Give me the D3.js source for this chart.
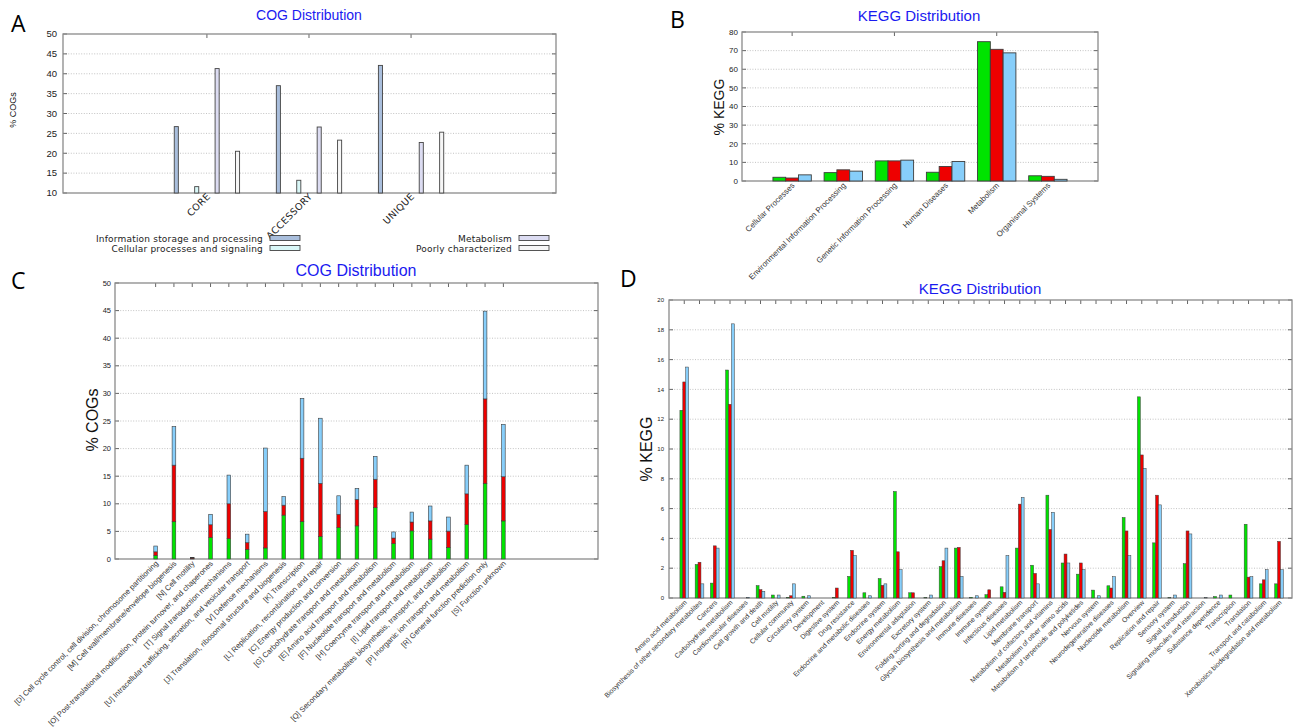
<!DOCTYPE html>
<html>
<head>
<meta charset="utf-8">
<script src="https://cdn.jsdelivr.net/npm/d3@7/dist/d3.min.js"></script>
<style>
body { margin: 0; background: #fff; }
svg { display: block; font-family: "Liberation Sans", Arial, sans-serif; }
</style>
</head>
<body>
<svg id="fig" width="1293" height="728"></svg>
<script>
// ---- panel A : COG classes per pan-genome part ----
const cogParts = ["CORE", "ACCESSORY", "UNIQUE"];
const cogClasses = ["Information storage and processing", "Cellular processes and signaling", "Metabolism", "Poorly characterized"];
const infoStorage = [26.7, 37.0, 42.1];
const cellSignal = [11.6, 13.2, 0];
const metabolismCog = [41.3, 26.6, 22.7];
const poorlyChar = [20.5, 23.3, 25.3];
const cogClassColors = ["#a9bedc", "#d9f7f7", "#dcdcf2", "#f6f6f6"];

// ---- panel B : KEGG level 1 ----
const keggL1 = ["Cellular Processes", "Environmental Information Processing", "Genetic Information Processing", "Human Diseases", "Metabolism", "Organismal Systems"];
const keggL1Green = [2.0, 4.5, 10.8, 4.7, 74.8, 2.8];
const keggL1Red = [1.6, 6.0, 10.8, 7.8, 70.7, 2.5];
const keggL1Blue = [3.3, 5.3, 11.2, 10.5, 68.8, 0.9];

// ---- panel C : COG categories, stacked ----
const cogCats = ["[D] Cell cycle control, cell division, chromosome partitioning", "[M] Cell wall/membrane/envelope biogenesis", "[N] Cell motility",
  "[O] Post-translational modification, protein turnover, and chaperones", "[T] Signal transduction mechanisms",
  "[U] Intracellular trafficking, secretion, and vesicular transport", "[V] Defense mechanisms",
  "[J] Translation, ribosomal structure and biogenesis", "[K] Transcription", "[L] Replication, recombination and repair",
  "[C] Energy production and conversion", "[G] Carbohydrate transport and metabolism", "[E] Amino acid transport and metabolism",
  "[F] Nucleotide transport and metabolism", "[H] Coenzyme transport and metabolism", "[I] Lipid transport and metabolism",
  "[Q] Secondary metabolites biosynthesis, transport, and catabolism", "[P] Inorganic ion transport and metabolism",
  "[R] General function prediction only", "[S] Function unknown"];
const cogGreen = [0.66, 6.75, 0.1, 3.9, 3.7, 1.75, 2.0, 7.95, 6.8, 4.1, 5.7, 6.0, 9.3, 2.8, 5.1, 3.6, 2.1, 6.25, 13.7, 6.9];
const cogRed = [0.64, 10.25, 0.1, 2.3, 6.3, 1.2, 6.6, 1.8, 11.45, 9.6, 2.4, 4.8, 5.15, 1.0, 1.6, 3.3, 2.95, 5.55, 15.3, 8.0];
const cogBlue = [1.05, 7.0, 0.1, 1.9, 5.2, 1.55, 11.5, 1.55, 10.85, 11.8, 3.35, 2.0, 4.15, 1.1, 1.8, 2.7, 2.55, 5.2, 15.9, 9.5];

// ---- panel D : KEGG level 2 ----
const keggL2 = ["Amino acid metabolism", "Biosynthesis of other secondary metabolites", "Cancers", "Carbohydrate metabolism",
  "Cardiovascular diseases", "Cell growth and death", "Cell motility", "Cellular community", "Circulatory system", "Development",
  "Digestive system", "Drug resistance", "Endocrine and metabolic diseases", "Endocrine system", "Energy metabolism",
  "Environmental adaptation", "Excretory system", "Folding sorting and degradation", "Glycan biosynthesis and metabolism",
  "Immune diseases", "Immune system", "Infectious diseases", "Lipid metabolism", "Membrane transport",
  "Metabolism of cofactors and vitamins", "Metabolism of other amino acids", "Metabolism of terpenoids and polyketides",
  "Nervous system", "Neurodegenerative diseases", "Nucleotide metabolism", "Overview", "Replication and repair",
  "Sensory system", "Signal transduction", "Signaling molecules and interaction", "Substance dependence", "Transcription",
  "Translation", "Transport and catabolism", "Xenobiotics biodegradation and metabolism"];
const keggL2Green = [12.6, 2.25, 1.0, 15.3, 0, 0.83, 0.2, 0.05, 0.12, 0, 0.05, 1.45, 0.35, 1.3, 7.15, 0.35, 0.03, 2.1, 3.35, 0.05,
  0.22, 0.75, 3.35, 2.2, 6.9, 2.35, 1.6, 0.53, 0.82, 5.4, 13.5, 3.7, 0.02, 2.3, 0, 0.1, 0.2, 4.95, 0.95, 0.95];
const keggL2Red = [14.5, 2.4, 3.5, 13.0, 0, 0.56, 0, 0.15, 0, 0, 0.67, 3.2, 0, 0.85, 3.1, 0.35, 0, 2.5, 3.4, 0,
  0.55, 0.38, 6.3, 1.65, 4.6, 2.95, 2.35, 0, 0.67, 4.5, 9.6, 6.9, 0, 4.5, 0, 0, 0, 1.4, 1.22, 3.8];
const keggL2Blue = [15.5, 0.95, 3.35, 18.4, 0.05, 0.45, 0.2, 0.95, 0.15, 0, 0, 2.85, 0.15, 0.95, 1.9, 0, 0.2, 3.35, 1.45, 0.15,
  0, 2.85, 6.75, 0.95, 5.75, 2.35, 1.9, 0.15, 1.43, 2.85, 8.7, 6.25, 0.2, 4.3, 0.03, 0.2, 0, 1.43, 1.9, 1.9];

const cGreen = "#00e400", cRed = "#ee0000", cBlue = "#87cefa";
const titleBlue = "#1a1af0";
const barStroke = "#3c3c3c";

const svg = d3.select("#fig");

// draws gnuplot-like box: dotted grid, tick labels, mirrored ticks
function drawFrame(g, x, y, step, fontSize, gap, topTicks) {
  let [x0, x1] = x.range();
  let [y0, y1] = y.range();
  let ticks = d3.range(y.domain()[0], y.domain()[1] + step / 2, step);
  g.selectAll(".grid").data(ticks.slice(1, -1)).enter().append("line")
    .attr("x1", x0).attr("x2", x1)
    .attr("y1", d => y(d)).attr("y2", d => y(d))
    .attr("stroke", "#b4b4b4").attr("stroke-width", 0.8)
    .attr("stroke-dasharray", "1,1.6");
  g.selectAll(".ytl").data(ticks).enter().append("text")
    .attr("x", x0 - gap).attr("y", d => y(d)).attr("dy", "0.35em")
    .attr("text-anchor", "end").attr("font-size", fontSize).attr("fill", "#222")
    .text(d => d);
  ticks.forEach(t => {
    g.append("line").attr("x1", x0).attr("x2", x0 + 4).attr("y1", y(t)).attr("y2", y(t)).attr("stroke", "#666");
    g.append("line").attr("x1", x1 - 4).attr("x2", x1).attr("y1", y(t)).attr("y2", y(t)).attr("stroke", "#666");
  });
  topTicks.forEach(t => {
    g.append("line").attr("x1", x(t)).attr("x2", x(t)).attr("y1", y1).attr("y2", y1 + 4).attr("stroke", "#666");
  });
  g.append("rect")
    .attr("x", x0).attr("y", y1).attr("width", x1 - x0).attr("height", y0 - y1)
    .attr("fill", "none").attr("stroke", "#8a8a8a").attr("stroke-width", 1.3);
}

function xLabels(g, x, names, baseY, fontSize, dx) {
  g.selectAll(".xl").data(names).enter().append("text")
    .attr("transform", (d, i) => "translate(" + (x(i) + dx) + "," + baseY + ") rotate(-45)")
    .attr("text-anchor", "end").attr("font-size", fontSize).attr("fill", "#333")
    .text(d => d);
}

function panelLetter(txt, px, py) {
  svg.append("text").attr("x", px).attr("y", py).attr("font-size", 23)
    .attr("font-family", "'Open Sans', 'Liberation Sans', sans-serif").text(txt);
}

function yTitle(txt, px, py, size) {
  svg.append("text").attr("transform", "translate(" + px + "," + py + ") rotate(-90)")
    .attr("text-anchor", "middle").attr("font-size", size).attr("fill", "#111").text(txt);
}

function chartTitle(txt, px, py, size) {
  svg.append("text").attr("x", px).attr("y", py).attr("text-anchor", "middle")
    .attr("font-size", size).attr("fill", titleBlue).text(txt);
}

// ===================== A =====================
{
  let g = svg.append("g");
  let x = d3.scaleLinear().domain([-1.41, 3.42]).range([63, 556]);
  let y = d3.scaleLinear().domain([10, 50]).range([193, 34]);
  drawFrame(g, x, y, 5, 9.5, 6, [0, 1, 2]);
  let series = [infoStorage, cellSignal, metabolismCog, poorlyChar];
  let offs = [-0.3, -0.1, 0.1, 0.3];
  let bw = 0.04;
  series.forEach((vals, k) => {
    g.selectAll(".ba" + k).data(vals.map((v, i) => ({ v: v, i: i })).filter(d => d.v > 10))
      .enter().append("rect")
      .attr("x", d => x(d.i + offs[k] - bw / 2))
      .attr("y", d => y(d.v))
      .attr("width", x(bw) - x(0))
      .attr("height", d => y(10) - y(d.v))
      .attr("fill", cogClassColors[k]).attr("stroke", "#444").attr("stroke-width", 0.9);
  });
  g.selectAll(".xl").data(cogParts).enter().append("text")
    .attr("transform", (d, i) => "translate(" + (x(i) + 4) + ",197) rotate(-45)")
    .attr("text-anchor", "end").attr("font-size", 9.5).attr("letter-spacing", 0.4).attr("fill", "#222")
    .attr("font-family", "'DejaVu Sans', sans-serif")
    .text(d => d);
  // legend
  let legX = [263, 512];
  cogClasses.forEach((c, k) => {
    let col = k < 2 ? 0 : 1;
    let row = k % 2;
    let ly = 238 + row * 10;
    g.append("text").attr("x", legX[col]).attr("y", ly + 3.5).attr("text-anchor", "end")
      .attr("font-size", 9).attr("letter-spacing", 0.2)
      .attr("font-family", "'DejaVu Sans', sans-serif").attr("fill", "#222").text(c);
    g.append("rect").attr("x", legX[col] + 7).attr("y", ly - 2.5).attr("width", 30).attr("height", 5)
      .attr("fill", cogClassColors[k]).attr("stroke", "#444").attr("stroke-width", 0.9);
  });
  chartTitle("COG Distribution", 309, 20, 14);
  yTitle("% COGs", 16, 110, 9);
  panelLetter("A", 11, 32);
}

// ===================== B =====================
{
  let g = svg.append("g");
  let x = d3.scaleLinear().domain([-0.98, 5.98]).range([742, 1098]);
  let y = d3.scaleLinear().domain([0, 80]).range([181, 32]);
  drawFrame(g, x, y, 10, 8, 4, [0, 2, 4]);
  let series = [keggL1Green, keggL1Red, keggL1Blue];
  let cols = [cGreen, cRed, cBlue];
  let bw = 0.25;
  series.forEach((vals, k) => {
    g.selectAll(".bb" + k).data(vals).enter().append("rect")
      .attr("x", (d, i) => x(i + (k - 1) * bw - bw / 2))
      .attr("y", d => y(d))
      .attr("width", x(bw) - x(0))
      .attr("height", d => y(0) - y(d))
      .attr("fill", cols[k]).attr("stroke", barStroke).attr("stroke-width", 0.9);
  });
  xLabels(g, x, keggL1, 186, 7.9, 3);
  chartTitle("KEGG Distribution", 919, 21, 15);
  yTitle("% KEGG", 724, 107, 14);
  panelLetter("B", 670, 28);
}

// ===================== C =====================
{
  let g = svg.append("g");
  let x = d3.scaleLinear().domain([-2.22, 24.17]).range([115, 598]);
  let y = d3.scaleLinear().domain([0, 50]).range([559, 283]);
  drawFrame(g, x, y, 5, 7.5, 4, d3.range(cogCats.length));
  let rows = cogCats.map((c, i) => ({ i: i, g: cogGreen[i], r: cogRed[i], b: cogBlue[i] }));
  let stack = d3.stack().keys(["g", "r", "b"])(rows);
  let cols = { g: cGreen, r: cRed, b: cBlue };
  let bw = 0.2;
  stack.forEach(layer => {
    g.selectAll(".bc" + layer.key).data(layer).enter().append("rect")
      .attr("x", d => x(d.data.i - bw / 2))
      .attr("y", d => y(d[1]))
      .attr("width", x(bw) - x(0))
      .attr("height", d => y(d[0]) - y(d[1]))
      .attr("fill", cols[layer.key]).attr("stroke", barStroke).attr("stroke-width", 0.6);
  });
  xLabels(g, x, cogCats, 564, 7.6, 3);
  chartTitle("COG Distribution", 356, 276, 16);
  yTitle("% COGs", 98, 420, 16);
  panelLetter("C", 11, 289);
}

// ===================== D =====================
{
  let g = svg.append("g");
  let x = d3.scaleLinear().domain([-1.0, 39.85]).range([669, 1292]);
  let y = d3.scaleLinear().domain([0, 20]).range([598, 300]);
  drawFrame(g, x, y, 2, 6, 5, d3.range(keggL2.length));
  let series = [keggL2Green, keggL2Red, keggL2Blue];
  let cols = [cGreen, cRed, cBlue];
  let bw = 0.19;
  series.forEach((vals, k) => {
    g.selectAll(".bd" + k).data(vals).enter().append("rect")
      .attr("x", (d, i) => x(i + (k - 1) * bw - bw / 2))
      .attr("y", d => y(d))
      .attr("width", x(bw) - x(0))
      .attr("height", d => y(0) - y(d))
      .attr("fill", cols[k]).attr("stroke", barStroke).attr("stroke-width", 0.5);
  });
  xLabels(g, x, keggL2, 603, 6.9, 3);
  chartTitle("KEGG Distribution", 980, 294, 15);
  yTitle("% KEGG", 652, 449, 16);
  panelLetter("D", 620, 287);
}
</script>
</body>
</html>
